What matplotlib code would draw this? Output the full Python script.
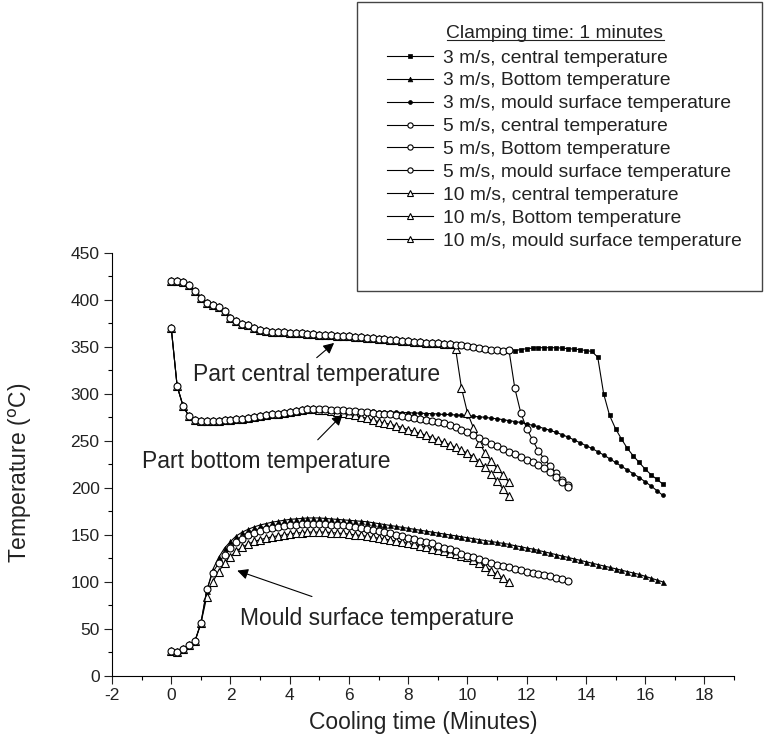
import matplotlib
matplotlib.use('Agg')
import matplotlib.pyplot as plt
from matplotlib.lines import Line2D
from matplotlib.patches import Rectangle
from matplotlib.ticker import MultipleLocator

plt.rcParams['font.family'] = ['Liberation Sans', 'DejaVu Sans']
plt.rcParams['axes.unicode_minus'] = False

# sample times (minutes), one reading every 0.2 min
time = [0.0, 0.2, 0.4, 0.6, 0.8, 1.0, 1.2, 1.4, 1.6, 1.8,
        2.0, 2.2, 2.4, 2.6, 2.8, 3.0, 3.2, 3.4, 3.6, 3.8,
        4.0, 4.2, 4.4, 4.6, 4.8, 5.0, 5.2, 5.4, 5.6, 5.8,
        6.0, 6.2, 6.4, 6.6, 6.8, 7.0, 7.2, 7.4, 7.6, 7.8,
        8.0, 8.2, 8.4, 8.6, 8.8, 9.0, 9.2, 9.4, 9.6, 9.8,
        10.0, 10.2, 10.4, 10.6, 10.8, 11.0, 11.2, 11.4, 11.6, 11.8,
        12.0, 12.2, 12.4, 12.6, 12.8, 13.0, 13.2, 13.4, 13.6, 13.8,
        14.0, 14.2, 14.4, 14.6, 14.8, 15.0, 15.2, 15.4, 15.6, 15.8,
        16.0, 16.2, 16.4, 16.6]

# part central temperature: shared part (0 - 9.6 min)
central_common = [420, 420, 419, 416, 409, 402, 397, 394, 392, 388,
                  381, 377, 374, 373, 370, 368, 367, 366, 366, 365.5,
                  365, 364.5, 364.5, 364, 363.5, 363, 362.5, 362, 361.5, 361,
                  361, 360.5, 360, 359.5, 359, 358.5, 358, 357.5, 357, 356.5,
                  356, 355.5, 355, 354.5, 354, 353.5, 353, 352.5, 352]
central_10_tail = [348, 306, 280, 264, 248, 237, 228.5, 221, 214, 206]      # 9.6 - 11.4
central_mid = [351.5, 351, 350, 349, 348, 347, 346.5, 346]                 # 9.8 - 11.2
central_5_tail = [347, 306, 280, 263, 251, 239, 230.5, 223, 215.5, 208.5, 203]  # 11.4 - 13.4
central_3_tail = [345.5, 346, 347, 348, 348.5, 349, 349, 349, 349, 348.5,
                  348, 347.5, 347, 346, 345, 339, 300, 277, 263, 252,
                  242, 234, 227, 220, 214, 209, 204]                       # 11.4 - 16.6

# part bottom temperature: shared part (0 - 4.8 min)
bottom_common = [370, 308, 287, 276, 272, 271, 271, 271, 271.5, 272,
                 272.5, 273, 273.5, 274, 275, 276, 277, 278, 279, 280,
                 281, 282, 283, 283.5, 283.5]
bottom_3_tail = [283.5, 283.5, 283.5, 283, 283, 282.5, 282.5, 282, 282, 281.5,
                 281, 281, 280.5, 280.5, 280, 280, 279.5, 279.5, 279, 279,
                 278.5, 278, 278, 277.5, 277, 276.5, 276, 275.5, 275, 274,
                 273.5, 272.5, 271.5, 270.5, 269.5, 268, 266.5, 265, 263, 261,
                 259, 256.5, 254, 251, 248, 245, 242, 238.5, 235, 231,
                 227, 223, 219, 215, 211, 206.5, 202, 197, 192]
bottom_5_tail = [283.5, 283.5, 283, 283, 282.5, 282, 281.5, 281, 280.5, 280,
                 279, 278.5, 278, 277, 276, 275, 274, 273, 272, 271,
                 270, 268.5, 267, 265, 262, 259, 256, 253, 250, 247,
                 244, 241, 238, 236, 233, 230, 227, 224, 221, 217,
                 212, 206, 201]
bottom_10_tail = [283, 282.5, 281.5, 280.5, 279.5, 278, 277, 275.5, 274, 272,
                  270.5, 269, 267.5, 266, 264, 262, 260, 258, 256, 253.5,
                  251, 248.5, 246, 243, 240, 237, 233, 228, 222, 215,
                  207, 199, 191]

# mould surface temperature: shared part (0 - 1.0 min)
mould_common = [27, 25, 29, 33, 37, 56]
mould_3_tail = [90, 113, 126, 136, 143, 149, 153, 156, 158.5, 160.5,
                162, 163.5, 164.5, 165.5, 166.5, 167, 167.5, 168, 168, 168,
                167.5, 167, 166.5, 166, 165.5, 165, 164.5, 164, 163, 162,
                161, 160, 159, 158, 157, 156, 155, 154, 153, 152,
                151, 150, 149, 148, 147, 146, 145, 144, 143, 142,
                141, 140, 138.5, 137.5, 136, 135, 133.5, 132, 130.5, 129,
                127.5, 126, 124.5, 123, 121.5, 120, 118.5, 117, 115.5, 114,
                112.5, 111, 109.5, 108, 106, 104, 102, 100]
mould_5_tail = [92, 110, 120, 129, 136, 142, 146, 150, 152.5, 154.5,
                156, 157.5, 158.5, 159.5, 160.5, 161, 161.5, 162, 162, 162,
                161.5, 161, 160.5, 160, 159, 158, 157, 156, 155, 154,
                153, 151.5, 150, 148.5, 147, 145.5, 144, 142.5, 141, 138.5,
                136.5, 134.5, 132.5, 130, 128, 126, 124, 122, 120, 118.5,
                117, 115.5, 114, 112.5, 111, 109.5, 108, 107, 106, 104.5,
                103, 101.5]
mould_10_tail = [84, 100, 111, 120, 127, 133, 137, 140.5, 143, 145,
                 146.5, 148, 149, 150, 151, 152, 152.5, 153, 153, 153,
                 153, 152.5, 152, 151.5, 151, 150, 149.5, 148.5, 147.5, 146.5,
                 145.5, 144.5, 143.5, 142.5, 141, 140, 138.5, 137, 135.5, 134,
                 132.5, 131, 129.5, 128, 126, 123, 120, 116, 112, 108,
                 104, 100]

legend_title = 'Clamping time: 1 minutes'
legend_labels = ['3 m/s, central temperature', '3 m/s, Bottom temperature',
                 '3 m/s, mould surface temperature', '5 m/s, central temperature',
                 '5 m/s, Bottom temperature', '5 m/s, mould surface temperature',
                 '10 m/s, central temperature', '10 m/s, Bottom temperature',
                 '10 m/s, mould surface temperature']

# assemble full series
central_3 = central_common + central_mid + central_3_tail
central_5 = central_common + central_mid + central_5_tail
central_10 = central_common[:-1] + central_10_tail
bottom_3 = bottom_common + bottom_3_tail
bottom_5 = bottom_common + bottom_5_tail
bottom_10 = bottom_common + bottom_10_tail
mould_3 = mould_common + mould_3_tail
mould_5 = mould_common + mould_5_tail
mould_10 = mould_common + mould_10_tail

fig = plt.figure(figsize=(7.64, 7.4), dpi=100)
ax = fig.add_axes([0.1466, 0.0865, 0.8141, 0.572])

lw = 0.8
open_style = dict(color='black', lw=lw, mfc='white', mec='black', mew=0.8)
filled_style = dict(color='black', lw=lw, mfc='black', mec='black', mew=0.5)

def plot_series(y, **kw):
    ax.plot(time[:len(y)], y, **kw)

# 3 m/s (small filled markers)
plot_series(central_3, marker='s', ms=2.3, **filled_style)
plot_series(bottom_3, marker='o', ms=2.8, **filled_style)
plot_series(mould_3, marker='^', ms=3.6, **filled_style)
# 10 m/s (open triangles)
plot_series(central_10, marker='^', ms=5.4, **open_style)
plot_series(bottom_10, marker='^', ms=5.4, **open_style)
plot_series(mould_10, marker='^', ms=5.4, **open_style)
# 5 m/s (open circles)
plot_series(central_5, marker='o', ms=5.0, **open_style)
plot_series(bottom_5, marker='o', ms=5.0, **open_style)
plot_series(mould_5, marker='o', ms=5.0, **open_style)

# axes
ax.set_xlim(-2, 19)
ax.set_ylim(0, 450)
ax.spines['top'].set_visible(False)
ax.spines['right'].set_visible(False)
ax.xaxis.set_major_locator(MultipleLocator(2))
ax.xaxis.set_minor_locator(MultipleLocator(1))
ax.yaxis.set_major_locator(MultipleLocator(50))
ax.yaxis.set_minor_locator(MultipleLocator(25))
ax.tick_params(which='major', direction='out', length=5.5, width=0.8, labelsize=12.5, colors='#222222')
ax.tick_params(which='minor', direction='out', length=3, width=0.8)

fig.text(20 / 764, 1 - 473 / 740, 'Temperature ($^{\\rm o}$C)', rotation=90,
         ha='center', va='center', fontsize=16.5, color='#222222')
fig.text(423 / 764, 1 - 722 / 740, 'Cooling time (Minutes)', ha='center', va='center',
         fontsize=16.5, color='#222222')

# annotations
arrow = dict(arrowstyle='-|>', color='black', lw=0.8, mutation_scale=16)
ax.annotate('', xy=(5.57, 356), xytext=(4.84, 336.5), arrowprops=arrow)
ax.text(0.73, 321, 'Part central temperature', fontsize=16.5, va='center', ha='left', color='#222222')
ax.annotate('', xy=(5.85, 280), xytext=(4.88, 249), arrowprops=arrow)
ax.text(-1.0, 228, 'Part bottom temperature', fontsize=16.5, va='center', ha='left', color='#222222')
ax.annotate('', xy=(2.14, 113), xytext=(4.84, 83.5), arrowprops=arrow)
ax.text(2.31, 61, 'Mould surface temperature', fontsize=16.5, va='center', ha='left', color='#222222')

# custom legend (title drawn separately so it can be underlined)
handles = [Line2D([0], [0], marker='s', ms=2.3, **filled_style),
           Line2D([0], [0], marker='^', ms=3.4, **filled_style),
           Line2D([0], [0], marker='o', ms=2.8, **filled_style),
           Line2D([0], [0], marker='o', ms=3.8, **open_style),
           Line2D([0], [0], marker='o', ms=3.8, **open_style),
           Line2D([0], [0], marker='o', ms=3.8, **open_style),
           Line2D([0], [0], marker='^', ms=4.4, **open_style),
           Line2D([0], [0], marker='^', ms=4.4, **open_style),
           Line2D([0], [0], marker='^', ms=4.4, **open_style)]
leg = fig.legend(handles, legend_labels, loc='upper left',
                 bbox_to_anchor=(387 / 764, 1 - 49 / 740), frameon=False,
                 fontsize=13.9, borderpad=0, borderaxespad=0,
                 labelspacing=0.28, handlelength=2.4, handletextpad=0.5)
for txt in leg.get_texts():
    txt.set_color('#222222')
title = fig.text(555 / 764, 1 - 33 / 740, legend_title, ha='center', va='center',
                 fontsize=13.9, color='#222222')
fig.add_artist(Rectangle((357 / 764, 1 - 291 / 740), 405 / 764, 289 / 740,
                         transform=fig.transFigure, fill=False, lw=1, edgecolor='#444444'))

# underline the legend title
fig.canvas.draw()
bb = title.get_window_extent(fig.canvas.get_renderer())
y_line = (bb.y0 + 2) / 740
fig.add_artist(Line2D([bb.x0 / 764, bb.x1 / 764], [y_line, y_line],
                      transform=fig.transFigure, color='#222222', lw=0.8))

plt.savefig('out.png', dpi=100)
